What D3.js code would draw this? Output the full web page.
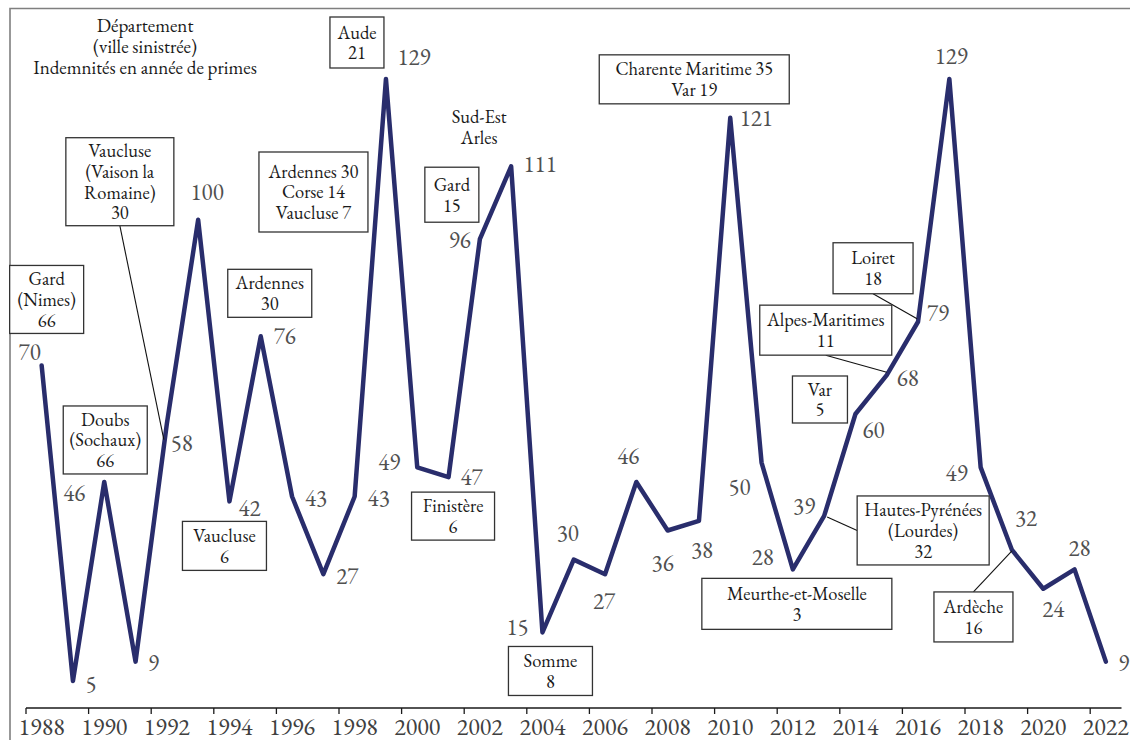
<!DOCTYPE html>
<html><head><meta charset="utf-8">
<script src="https://cdn.jsdelivr.net/npm/d3@7"></script>
<style>
html,body{margin:0;padding:0;background:#fff;}
</style></head>
<body><svg id="c" width="1130" height="740"></svg>
<script>
// ---- data ----
const years = [1988,1989,1990,1991,1992,1993,1994,1995,1996,1997,1998,1999,2000,2001,2002,2003,2004,2005,2006,2007,2008,2009,2010,2011,2012,2013,2014,2015,2016,2017,2018,2019,2020,2021,2022];
const values = [70,5,46,9,58,100,42,76,43,27,43,129,49,47,96,111,15,30,27,46,36,38,121,50,28,39,60,68,79,129,49,32,24,28,9];
const tickYears = [1988,1990,1992,1994,1996,1998,2000,2002,2004,2006,2008,2010,2012,2014,2016,2018,2020,2022];
const titleLines = ["Département","(ville sinistrée)","Indemnités en année de primes"];
const annoTexts = [
  ["Gard","(Nimes)","66"],
  ["Doubs","(Sochaux)","66"],
  ["Vaucluse","(Vaison la","Romaine)","30"],
  ["Aude","21"],
  ["Ardennes 30","Corse 14","Vaucluse 7"],
  ["Ardennes","30"],
  ["Vaucluse","6"],
  ["Finistère","6"],
  ["Gard","15"],
  ["Sud-Est","Arles"],
  ["Somme","8"],
  ["Charente Maritime 35","Var 19"],
  ["Meurthe-et-Moselle","3"],
  ["Hautes-Pyrénées","(Lourdes)","32"],
  ["Ardèche","16"],
  ["Loiret","18"],
  ["Alpes-Maritimes","11"],
  ["Var","5"]
];
const annoYears = [1988,1990,1992,1999,1999,1995,1994,2001,2002,2003,2004,2010,2012,2013,2019,2016,2015,2014];

// ---- layout (positions / styles) ----
const FONT = "'EB Garamond', 'Liberation Serif', monospace";
const labelOffsets = [[-12,-13],[18,3],[-30,11],[18,1],[15,19],[9,-28],[20,7],[24,0],[24,1],[24,2],[24,1],[28,-22],[-28,-5],[23,0],[-20,1],[29,-2],[-25,-6],[-6,-27],[-1,27],[-8,-26],[-5,32],[3,29],[26,0],[-22,24],[-30,-12],[-20,-10],[18,16],[21,3],[20,-9],[2,-23],[-24,6],[14,-32],[10,20],[5,-21],[18,1]];
// box: [dx,dy of center from anchor point, w, h, boxed, leader start side, leader end offset]
const annoLayout = [
  [5,-66,74,68,true,null,null],
  [1,-42,84,68,true,null,null],
  [-47,-242,108,88,true,"bottom",[-3,16]],
  [-29,-36.5,54,51,true,null,null],
  [-72.5,113,109,80,true,null,null],
  [9,-43,84,48,true,null,null],
  [-5,44.5,84,49,true,null,null],
  [4.5,39,83,48,true,null,null],
  [-28,-44.5,54,55,true,null,null],
  [-32,-39.5,80,40,false,null,null],
  [8,38.5,84,49,true,null,null],
  [-36,-38.5,190,49,true,null,null],
  [4,34.5,190,51,true,null,null],
  [99,14.5,132,69,true,"left",[3,1]],
  [-38.5,67,79,50,true,"top",[0,1]],
  [-45,-53.5,80,51,true,"bottom",[-1,-3]],
  [-61,-45,132,50,true,"bottom",[0,-3]],
  [-35.5,-14.5,55,47,true,null,null]
];

const svg = d3.select("#c");
const x = d3.scaleBand().domain(years).range([26,1121.5]).padding(0);
const y = d3.scaleLinear().domain([0,129]).range([705.3,79]);
const cx = yr => x(yr) + x.bandwidth()/2;

// frame
svg.append("path").attr("d","M10,1000 L10,8.5 L1200,8.5").attr("fill","none").attr("stroke","#7f7f7f").attr("stroke-width",1.6);

// x axis
const axisY = 708;
const gx = svg.append("g");
gx.append("line").attr("x1",x(1988)).attr("x2",1121.5).attr("y1",axisY).attr("y2",axisY).attr("stroke","#1a1a1a").attr("stroke-width",1.3);
gx.selectAll("line.t").data(tickYears).enter().append("line").attr("class","t")
  .attr("x1",d=>x(d)).attr("x2",d=>x(d)).attr("y1",axisY).attr("y2",axisY+6).attr("stroke","#1a1a1a").attr("stroke-width",1.3);
gx.selectAll("text").data(tickYears).enter().append("text")
  .attr("x",d=>cx(d)).attr("y",axisY+19).attr("dy","0.35em").attr("text-anchor","middle")
  .style("font-family",FONT).style("font-size","24px").attr("fill","#404040").text(d=>d);

// line
const pts = years.map((yr,i)=>({yr, v:values[i], off:labelOffsets[i]}));
svg.append("path").datum(pts)
  .attr("d", d3.line().x(d=>cx(d.yr)).y(d=>y(d.v)))
  .attr("fill","none").attr("stroke","#292d6c").attr("stroke-width",4.5)
  .attr("stroke-linejoin","round").attr("stroke-linecap","round");

// value labels
svg.selectAll("text.v").data(pts).enter().append("text").attr("class","v")
  .attr("x",d=>cx(d.yr)+d.off[0]).attr("y",d=>y(d.v)+d.off[1]).attr("dy","0.35em")
  .attr("text-anchor","middle").style("font-family",FONT).style("font-size","23px").attr("fill","#505050").text(d=>d.v);

// title
svg.selectAll("text.title").data(titleLines).enter().append("text").attr("class","title")
  .attr("x",145).attr("y",(d,i)=>25+i*21).attr("dy","0.35em").attr("text-anchor","middle")
  .style("font-family",FONT).style("font-size","19px").attr("fill","#1a1a1a").text(d=>d);

// annotations
annoTexts.forEach((lines,i)=>{
  const yr = annoYears[i];
  const v = values[years.indexOf(yr)];
  const [dx,dy,w,h,boxed,side,end] = annoLayout[i];
  const px = cx(yr), py = y(v);
  const bx = px+dx, by = py+dy;
  const g = svg.append("g");
  if (side) {
    let sx=bx, sy=by;
    if (side==="bottom") sy = by+h/2;
    if (side==="top") sy = by-h/2;
    if (side==="left") sx = bx-w/2;
    g.append("line").attr("x1",sx).attr("y1",sy).attr("x2",px+end[0]).attr("y2",py+end[1])
      .attr("stroke","#111").attr("stroke-width",1.1);
  }
  if (boxed) g.append("rect").attr("x",bx-w/2).attr("y",by-h/2).attr("width",w).attr("height",h)
      .attr("fill","#fff").attr("stroke","#333").attr("stroke-width",1.3);
  const n = lines.length, lh = 20.7;
  g.selectAll("text").data(lines).enter().append("text")
    .attr("x",bx).attr("y",(d,j)=>by+(j-(n-1)/2)*lh).attr("dy","0.35em")
    .attr("text-anchor","middle").style("font-family",FONT).style("font-size","18.5px").attr("fill","#1a1a1a").text(d=>d);
});
</script></body></html>
